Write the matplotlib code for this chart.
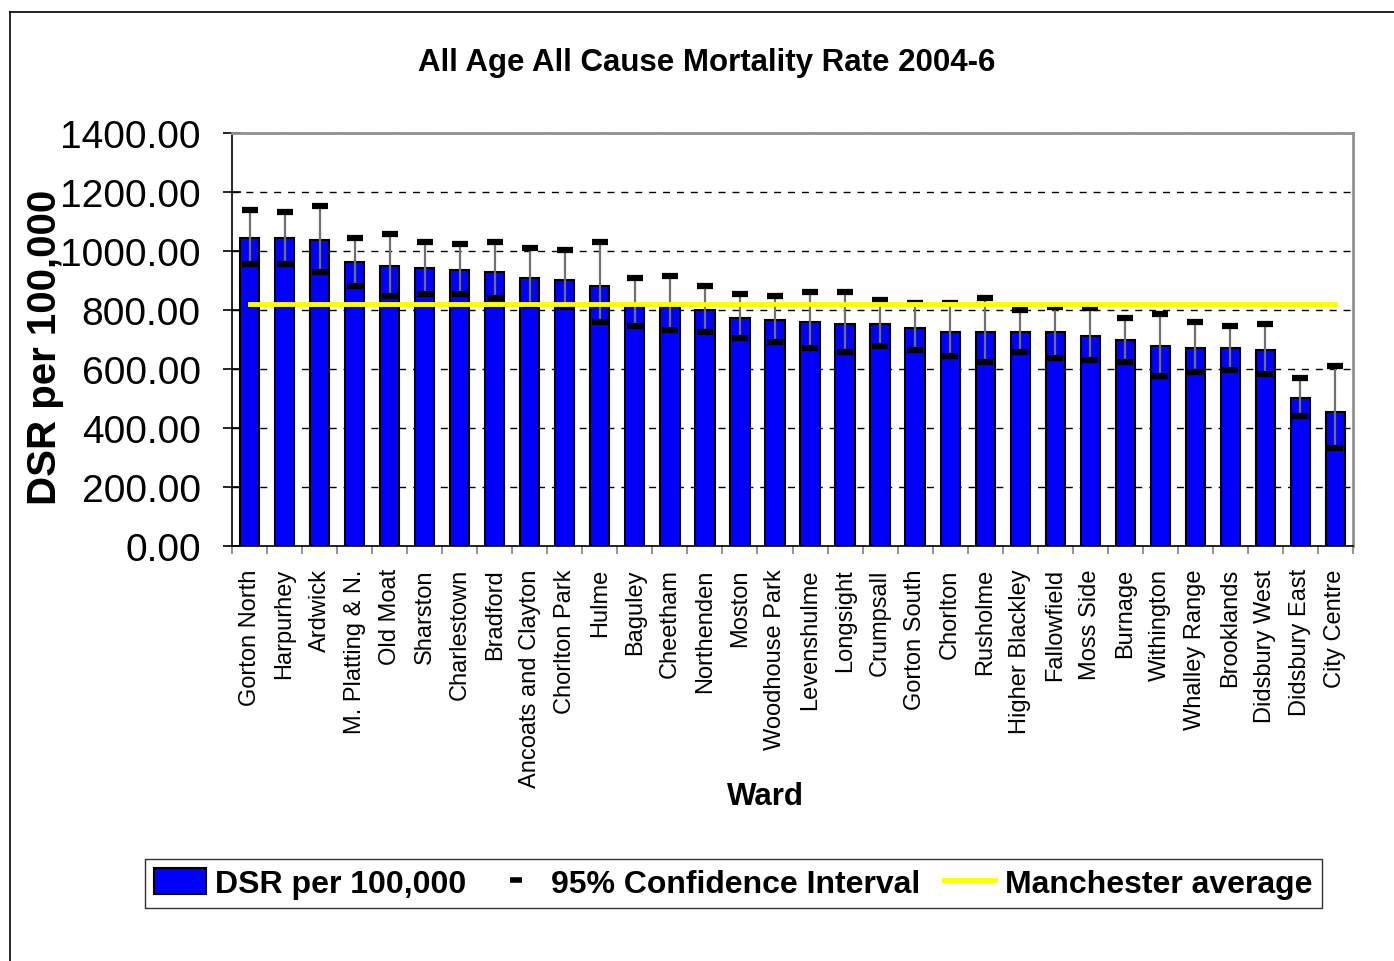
## ============================================================
## All Age All Cause Mortality Rate 2004-6 (Manchester wards)
## ============================================================
import numpy as np
import matplotlib
matplotlib.use('Agg')
import matplotlib.pyplot as plt
from matplotlib.lines import Line2D
from matplotlib.patches import Patch

plt.rcParams['font.family'] = ['Liberation Sans', 'DejaVu Sans']

## ------------------------------------------------------------
## 데이터
## ------------------------------------------------------------
wards = ['Gorton North', 'Harpurhey', 'Ardwick', 'M. Platting & N.', 'Old Moat',
         'Sharston', 'Charlestown', 'Bradford', 'Ancoats and Clayton', 'Chorlton Park',
         'Hulme', 'Baguley', 'Cheetham', 'Northenden', 'Moston', 'Woodhouse Park',
         'Levenshulme', 'Longsight', 'Crumpsall', 'Gorton South', 'Chorlton',
         'Rusholme', 'Higher Blackley', 'Fallowfield', 'Moss Side', 'Burnage',
         'Withington', 'Whalley Range', 'Brooklands', 'Didsbury West',
         'Didsbury East', 'City Centre']

dsr = [1044, 1044, 1037, 963, 949, 942, 936, 929, 908, 902,
       881, 814, 814, 800, 773, 766, 759, 753, 753, 739,
       725, 725, 725, 725, 712, 698, 678, 671, 671, 664,
       502, 454]

ci_upper = [1139, 1132, 1153, 1044, 1058, 1031, 1024, 1031, 1010, 1003,
            1031, 908, 915, 881, 854, 847, 861, 861, 834, 824,
            824, 841, 800, 810, 807, 773, 786, 759, 746, 753,
            569, 610]

ci_lower = [956, 956, 929, 881, 847, 854, 854, 841, 818, 810,
            759, 746, 732, 725, 705, 692, 671, 658, 678, 664,
            644, 624, 658, 637, 631, 624, 576, 590, 597, 583,
            441, 332]

manchester_avg = 820

## ------------------------------------------------------------
## 그래프
## ------------------------------------------------------------
W, H = 1394, 962
fig = plt.figure(figsize=(W / 100, H / 100), dpi=100)
ax = fig.add_axes([232 / W, 1 - 547 / H, (1353 - 232) / W, (547 - 134) / H])

x = np.arange(len(wards))

# 막대
ax.bar(x, dsr, width=0.55, color='#0000FF', edgecolor='black', linewidth=1.5, zorder=2)

# 신뢰구간 (회색 세로선 + 검정 마커)
ax.vlines(x, ci_lower, ci_upper, color='#707070', linewidth=1.6, zorder=3)
ax.plot(x, ci_upper, linestyle='none', marker='_', markersize=11, mew=4.5, color='black', zorder=4)
ax.plot(x, ci_lower, linestyle='none', marker='_', markersize=11, mew=4.5, color='black', zorder=4)

# 맨체스터 평균
ax.plot([x[0], x[-1]], [manchester_avg, manchester_avg], color='#FFFF00', linewidth=3.5, zorder=5)

# 축 설정
ax.set_xlim(-0.5, len(wards) - 0.5)
ax.set_ylim(0, 1400)
ax.set_yticks(np.arange(0, 1401, 200))
ax.set_yticklabels([f'{v:.2f}' for v in np.arange(0, 1401, 200)], fontsize=28)
ax.yaxis.grid(True, linestyle=(0, (5, 5)), color='black', linewidth=1.0, zorder=0)
ax.set_axisbelow(True)

ax.set_xticks(x)
ax.set_xticklabels(wards, rotation=90, fontsize=17)
ax.set_xticks(np.arange(-0.5, len(wards)), minor=True)
ax.tick_params(axis='x', which='major', length=0, pad=16)
ax.tick_params(axis='x', which='minor', length=6, width=1.2, color='#808080', direction='out')
ax.tick_params(axis='y', length=13, width=1.2, direction='inout', pad=16)

for s in ['top', 'right']:
    ax.spines[s].set_color('#909090')
    ax.spines[s].set_linewidth(2)
for s in ['left', 'bottom']:
    ax.spines[s].set_color('black')
    ax.spines[s].set_linewidth(1.2)

# 텍스트
fig.text(707 / W, 1 - 63 / H, 'All Age All Cause Mortality Rate 2004-6',
         fontsize=22.5, fontweight='bold', ha='center', va='center')
fig.text(765 / W, 1 - 797 / H, 'Ward', fontsize=22.5, fontweight='bold', ha='center', va='center')
fig.text(45 / W, 1 - 347 / H, 'DSR per 100,000', fontsize=29, fontweight='bold',
         rotation=90, ha='center', va='center')

# 범례
handles = [Patch(facecolor='#0000FF', edgecolor='black', linewidth=1.5),
           Line2D([], [], linestyle='none', marker='_', markersize=9, mew=4, color='black'),
           Line2D([], [], color='#FFFF00', linewidth=3.5)]
labels = ['DSR per 100,000', '95% Confidence Interval', 'Manchester average']
leg = fig.legend(handles, labels, loc='center', ncol=3,
                 bbox_to_anchor=(733.5 / W, 1 - 884.5 / H),
                 prop={'size': 23, 'weight': 'bold'}, frameon=True, fancybox=False,
                 edgecolor='black', handlelength=1.6, handleheight=0.85,
                 handletextpad=0.3, columnspacing=0.75, borderpad=0.3, borderaxespad=0)
leg.get_frame().set_linewidth(1.0)

# 바깥 테두리 (왼쪽, 위쪽)
fig.add_artist(Line2D([10 / W, 10 / W], [0, 1 - 13 / H], color='black', linewidth=1.2))
fig.add_artist(Line2D([10 / W, 1], [1 - 13 / H, 1 - 13 / H], color='black', linewidth=1.2))

fig.savefig('out.png', dpi=100)
